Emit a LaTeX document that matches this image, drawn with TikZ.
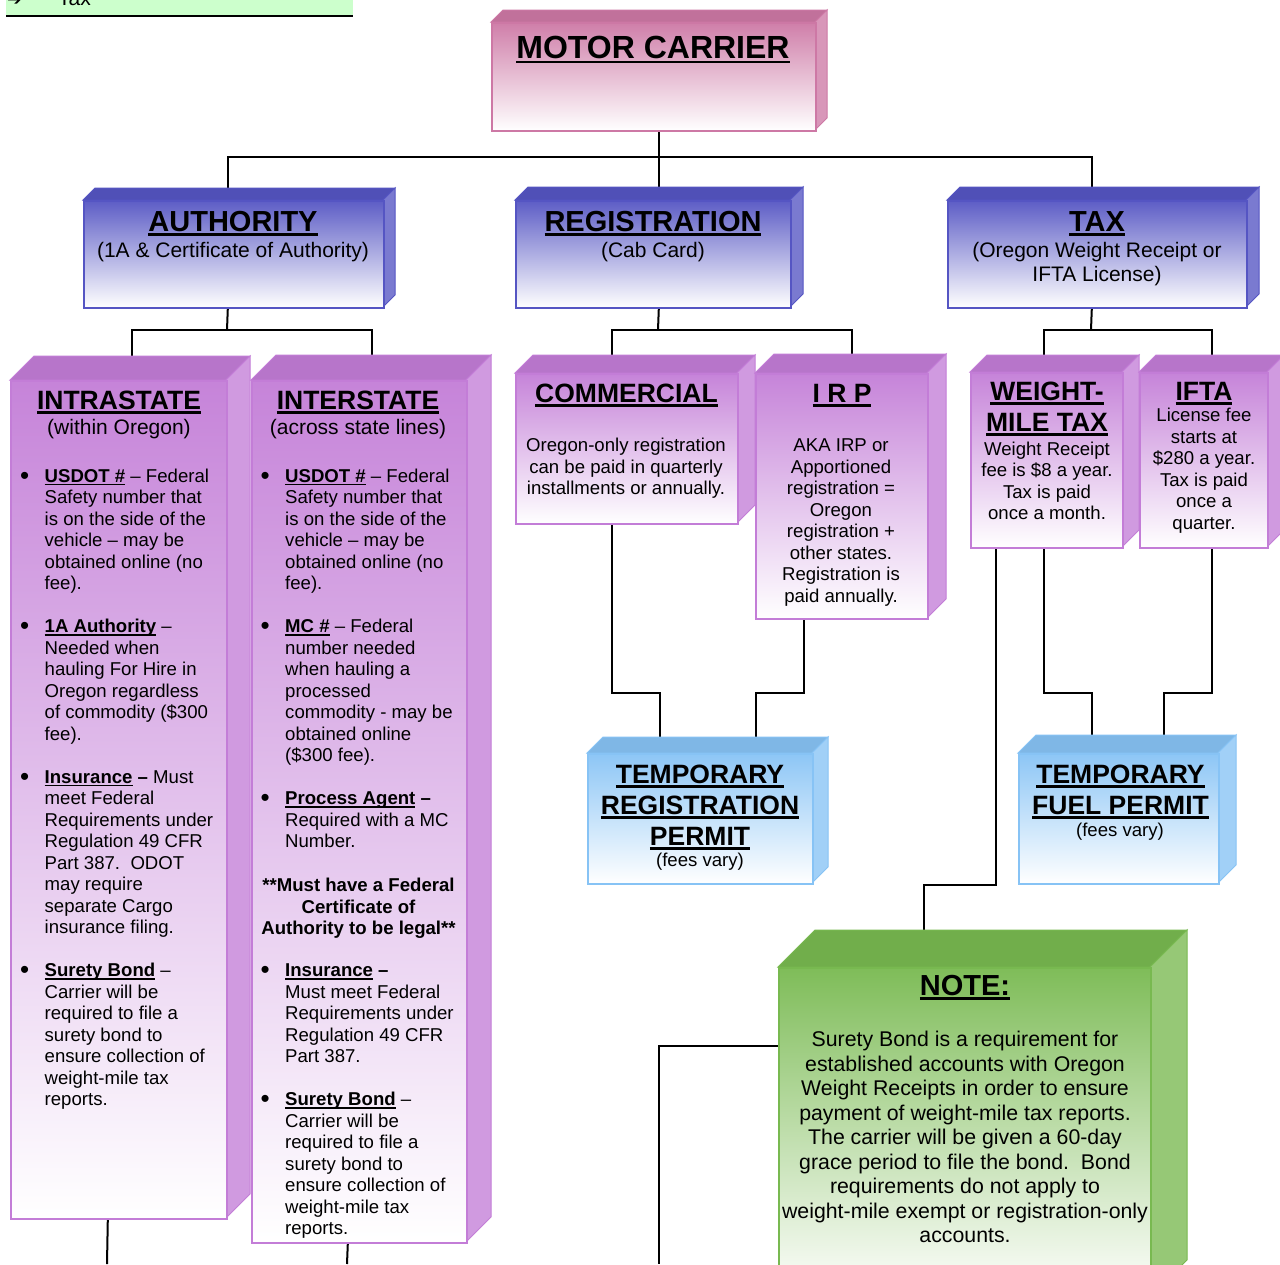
\documentclass[tikz,border=0pt]{standalone}
\usepackage{fontspec}
\setmainfont{Liberation Sans}
\newfontfamily\djv{DejaVu Sans}
\usetikzlibrary{calc}
\pgfdeclarelayer{bg}
\pgfsetlayers{bg,main}
\definecolor{pinkC}{RGB}{205,120,165}
\definecolor{blueC}{RGB}{85,85,195}
\definecolor{purpC}{RGB}{195,125,215}
\definecolor{lblueC}{RGB}{135,195,245}
\definecolor{greenC}{RGB}{120,185,80}
\definecolor{legendG}{RGB}{204,255,204}
\newsavebox\ulbox
\newcommand\myul[1]{\sbox\ulbox{#1}\rlap{\rule[-0.17em]{\wd\ulbox}{0.085em}}\usebox\ulbox}
\newcommand\fmc{\fontsize{32}{36}\selectfont\bfseries}
\newcommand\fbig{\fontsize{29}{33}\selectfont\bfseries}
\newcommand\ftitle{\fontsize{26.5}{31}\selectfont\bfseries}
\newcommand\fsub{\fontsize{21}{24}\selectfont}
\newcommand\fbody{\fontsize{18.6}{21.5}\selectfont}
\newcommand\fnote{\fontsize{21.3}{24.5}\selectfont}
\newcommand\bul{\makebox[24.5pt][l]{\raisebox{-2.2pt}{\fontsize{26}{21.5}\selectfont •}}}
\newcommand\ind{\hspace*{24.5pt}}
% name, x, y, w, h, depth, colour
\newcommand\tdbox[7]{%
  \filldraw[#7, fill=#7!94!black, line width=1pt] (#2,#3) -- ++(#6,-#6) -- ++(#4,0) -- ++(-#6,#6) -- cycle;
  \filldraw[#7, fill=#7!78!white, line width=1pt] (#2+#4,#3) -- ++(#6,-#6) -- ++(0,#5) -- ++(-#6,#6) -- cycle;
  \node[draw=#7, line width=1.6pt, top color=#7!95!white, bottom color=white, inner sep=0pt,
        minimum width=#4pt, minimum height=#5pt, anchor=north west] (#1) at (#2,#3) {};
}
\tikzset{
  txt/.style={inner sep=0pt, text=black},
  conn/.style={line width=2pt, black},
}
\begin{document}
\begin{tikzpicture}[x=1pt,y=-1pt]
\useasboundingbox (0,0) rectangle (1280,1264);
\clip (0,0) rectangle (1280,1264);

% legend fragment
\fill[legendG] (6,-4) rectangle (353,16);
\draw[line width=2pt] (6,16) -- (353,16);
\node[txt, font=\djv\fontsize{18}{20}\selectfont, anchor=base west] (lega) at (7,5) {➔};
\node[txt, font=\fontsize{21}{24}\selectfont, anchor=base west] (legt) at (58,5) {Tax};

% boxes
\tdbox{mc}{491}{22}{324}{108}{12}{pinkC}
\tdbox{auth}{83}{200}{300}{107}{12}{blueC}
\tdbox{reg}{515}{200}{275}{107}{13}{blueC}
\tdbox{tax}{947}{200}{299}{107}{13}{blueC}
\tdbox{intra}{10}{380}{216}{838}{24}{purpC}
\tdbox{inter}{251}{380}{215}{862}{25}{purpC}
\tdbox{com}{515}{373}{222}{150}{18}{purpC}
\tdbox{irp}{755}{373}{172}{245}{19}{purpC}
\tdbox{wm}{970}{372}{152}{175}{17}{purpC}
\tdbox{ifta}{1139}{372}{128}{175}{17}{purpC}
\tdbox{treg}{587}{753}{225}{130}{16}{lblueC}
\tdbox{tfuel}{1018}{753}{200}{130}{18}{lblueC}
\tdbox{note}{778}{967}{372}{330}{37}{greenC}

% connectors
\coordinate (mcj) at (658,157);
\coordinate (aj) at (227,330);
\coordinate (rj) at (658,330);
\coordinate (tj) at (1091,330);
\coordinate (nl) at (659,1264);
\coordinate (ib) at (107,1264);
\coordinate (eb) at (347,1264);
\begin{pgfonlayer}{bg}
\fill[white] (0,0) rectangle (1280,1264);
\draw[conn] ([xshift=5pt]mc.south) -- ([xshift=5.5pt]reg.north);
\draw[conn] ([xshift=-6pt]auth.north) |- (mcj) -| ([xshift=-5.5pt]tax.north);
\draw[conn] ([xshift=-6pt]auth.south) -- (aj);
\draw[conn] ([xshift=13pt]intra.north) |- (aj) -| ([xshift=12.5pt]inter.north);
\draw[conn] ([xshift=5.5pt]reg.south) -- (rj);
\draw[conn] ([xshift=-15pt]com.north) |- (rj) -| ([xshift=10pt]irp.north);
\draw[conn] ([xshift=-5.5pt]tax.south) -- (tj);
\draw[conn] ([xshift=-3pt]wm.north) |- (tj) -| ([xshift=8pt]ifta.north);
\draw[conn] ([xshift=-15pt]com.south) -- ++(0,168) -| ([xshift=-40.5pt]treg.north);
\draw[conn] ([xshift=-38pt]irp.south) -- ++(0,73) -| ([xshift=55.5pt]treg.north);
\draw[conn] ([xshift=-3pt]wm.south) -- ++(0,144) -| ([xshift=-27pt]tfuel.north);
\draw[conn] ([xshift=8pt]ifta.south) -- ++(0,144) -| ([xshift=45pt]tfuel.north);
\draw[conn] ([xshift=-51pt]wm.south) -- ++(0,336) -| ([xshift=-41pt]note.north);
\draw[conn] ([yshift=-79pt]note.north west) -| (nl);
\draw[conn] ([xshift=-11pt]intra.south) -- (ib);
\draw[conn] ([xshift=-11.5pt]inter.south) -- (eb);
\end{pgfonlayer}

% texts: top level
\node[txt, font=\fmc, anchor=base] (mct) at (653,58) {\myul{MOTOR CARRIER}};
\node[txt, font=\fbig, anchor=base] (autht) at (233,231) {\myul{AUTHORITY}};
\node[txt, font=\fsub, anchor=base] (auths) at (233,257) {(1A \& Certificate of Authority)};
\node[txt, font=\fbig, anchor=base] (regt) at (653,231) {\myul{REGISTRATION}};
\node[txt, font=\fsub, anchor=base] (regs) at (653,257) {(Cab Card)};
\node[txt, font=\fbig, anchor=base] (taxt) at (1097,231) {\myul{TAX}};
\node[txt, font=\fsub, anchor=base] (taxs) at (1097,257) {(Oregon Weight Receipt or};
\node[txt, font=\fsub, anchor=base] (taxs2) at (1097,281) {IFTA License)};

% intrastate
\node[txt, font=\ftitle, anchor=base] (intrat) at (119,409) {\myul{INTRASTATE}};
\node[txt, font=\fsub, anchor=base] (intras) at (119,434) {(within Oregon)};
\node[txt, font=\fbody, align=left, anchor=north west] (intrab) at (20,467) {%
\strut\bul\textbf{\myul{USDOT \#}} -- Federal\\
\ind Safety number that\\
\ind is on the side of the\\
\ind vehicle -- may be\\
\ind obtained online (no\\
\ind fee).\\
\strut\\
\bul\textbf{\myul{1A Authority}} --\\
\ind Needed when\\
\ind hauling For Hire in\\
\ind Oregon regardless\\
\ind of commodity (\$300\\
\ind fee).\\
\strut\\
\bul\textbf{\myul{Insurance} --} Must\\
\ind meet Federal\\
\ind Requirements under\\
\ind Regulation 49 CFR\\
\ind Part 387.\ \ ODOT\\
\ind may require\\
\ind separate Cargo\\
\ind insurance filing.\\
\strut\\
\bul\textbf{\myul{Surety Bond}} --\\
\ind Carrier will be\\
\ind required to file a\\
\ind surety bond to\\
\ind ensure collection of\\
\ind weight-mile tax\\
\ind reports.};

% interstate
\node[txt, font=\ftitle, anchor=base] (intert) at (358,409) {\myul{INTERSTATE}};
\node[txt, font=\fsub, anchor=base] (inters) at (358,434) {(across state lines)};
\node[txt, font=\fbody, align=left, anchor=north west] (interb) at (260.5,467) {%
\strut\bul\textbf{\myul{USDOT \#}} -- Federal\\
\ind Safety number that\\
\ind is on the side of the\\
\ind vehicle -- may be\\
\ind obtained online (no\\
\ind fee).\\
\strut\\
\bul\textbf{\myul{MC \#}} -- Federal\\
\ind number needed\\
\ind when hauling a\\
\ind processed\\
\ind commodity - may be\\
\ind obtained online\\
\ind (\$300 fee).\\
\strut\\
\bul\textbf{\myul{Process Agent} --}\\
\ind Required with a MC\\
\ind Number.};
\node[txt, font=\fbody\bfseries, align=center, anchor=north] (must) at (358.5,876.5) {%
\strut**Must have a Federal\\Certificate of\\Authority to be legal**};
\node[txt, font=\fbody, align=left, anchor=north west] (interc) at (260.5,961.5) {%
\strut\bul\textbf{\myul{Insurance} --}\\
\ind Must meet Federal\\
\ind Requirements under\\
\ind Regulation 49 CFR\\
\ind Part 387.\\
\strut\\
\bul\textbf{\myul{Surety Bond}} --\\
\ind Carrier will be\\
\ind required to file a\\
\ind surety bond to\\
\ind ensure collection of\\
\ind weight-mile tax\\
\ind reports.};

% commercial / IRP
\node[txt, font=\ftitle, anchor=base] (comt) at (626.5,402) {\myul{COMMERCIAL}};
\node[txt, font=\fbody, align=center, anchor=north] (comb) at (626,436.5) {%
\strut Oregon-only registration\\can be paid in quarterly\\installments or annually.};
\node[txt, font=\ftitle, anchor=base] (irpt) at (842,402) {\myul{I R P}};
\node[txt, font=\fbody, align=center, anchor=north] (irpb) at (841,436.5) {%
\strut AKA IRP or\\Apportioned\\registration =\\Oregon\\registration +\\other states.\\Registration is\\paid annually.};

% weight-mile / IFTA
\node[txt, font=\ftitle, align=center, anchor=north] (wmt) at (1047,378.3) {%
\strut\myul{WEIGHT-}\\\myul{MILE TAX}};
\node[txt, font=\fbody, align=center, anchor=north] (wmb) at (1047,440) {%
\strut Weight Receipt\\fee is \$8 a year.\\Tax is paid\\once a month.};
\node[txt, font=\ftitle, anchor=base] (iftat) at (1204,400) {\myul{IFTA}};
\node[txt, font=\fbody, align=center, anchor=north] (iftab) at (1204,406.5) {%
\strut License fee\\starts at\\\$280 a year.\\Tax is paid\\once a\\quarter.};

% temporary permits
\node[txt, font=\ftitle, align=center, anchor=north] (tregt) at (700,761.3) {%
\strut\myul{TEMPORARY}\\\myul{REGISTRATION}\\\myul{PERMIT}};
\node[txt, font=\fbody, anchor=base] (tregs) at (700,866) {(fees vary)};
\node[txt, font=\ftitle, align=center, anchor=north] (tfuelt) at (1120.5,761.3) {%
\strut\myul{TEMPORARY}\\\myul{FUEL PERMIT}};
\node[txt, font=\fbody, anchor=base] (tfuels) at (1120,836) {(fees vary)};

% note
\node[txt, font=\fbig, anchor=base] (notet) at (965,995) {\myul{NOTE:}};
\node[txt, font=\fnote, align=center, anchor=north] (noteb) at (965,1029.4) {%
\strut Surety Bond is a requirement for\\
established accounts with Oregon\\
Weight Receipts in order to ensure\\
payment of weight-mile tax reports.\\
The carrier will be given a 60-day\\
grace period to file the bond.\ \ Bond\\
requirements do not apply to\\
weight-mile exempt or registration-only\\
accounts.};
\end{tikzpicture}
\end{document}
